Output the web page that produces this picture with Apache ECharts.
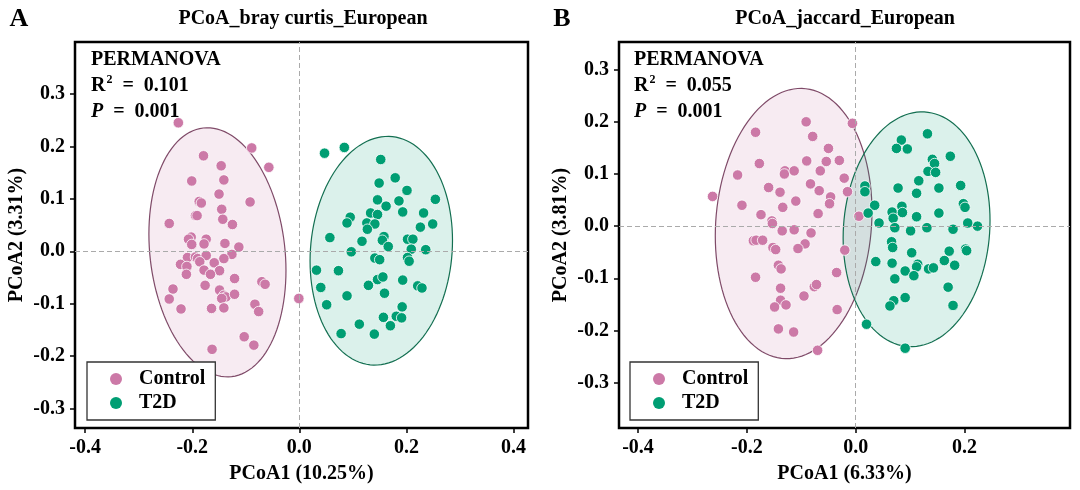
<!DOCTYPE html>
<html>
<head>
<meta charset="utf-8">
<title>PCoA European</title>
<script src="https://cdn.jsdelivr.net/npm/echarts@6.0.0/dist/echarts.min.js"></script>
<style>
  html, body { margin: 0; padding: 0; background: #fff; }
  #chart { width: 1080px; height: 490px; }
</style>
</head>
<body>
<div id="chart"></div>
<script>
// PCoA coordinates, [PCoA1, PCoA2]
const brayControl = [
  [-0.226, 0.245], [-0.089, 0.197], [-0.179, 0.182], [-0.057, 0.160], [-0.146, 0.163],
  [-0.201, 0.134], [-0.141, 0.136], [-0.150, 0.109], [-0.187, 0.095], [-0.183, 0.092],
  [-0.092, 0.094], [-0.145, 0.080], [-0.194, 0.068], [-0.191, 0.068], [-0.143, 0.061],
  [-0.125, 0.051], [-0.243, 0.053], [-0.202, 0.027], [-0.207, 0.023], [-0.174, 0.023],
  [-0.178, 0.014], [-0.201, 0.013], [-0.139, 0.015], [-0.113, 0.008], [-0.126, -0.006],
  [-0.209, -0.012], [-0.194, -0.011], [-0.190, -0.014], [-0.174, -0.008], [-0.141, -0.014],
  [-0.222, -0.025], [-0.210, -0.029], [-0.186, -0.020], [-0.159, -0.022], [-0.178, -0.036],
  [-0.149, -0.037], [-0.166, -0.044], [-0.211, -0.044], [-0.121, -0.052], [-0.070, -0.058],
  [-0.064, -0.063], [-0.176, -0.065], [-0.236, -0.072], [-0.149, -0.074], [-0.141, -0.084],
  [-0.137, -0.087], [-0.145, -0.090], [-0.121, -0.082], [-0.243, -0.091], [-0.083, -0.101],
  [-0.076, -0.115], [-0.221, -0.110], [-0.164, -0.109], [-0.141, -0.108], [-0.103, -0.163],
  [-0.085, -0.179], [-0.163, -0.187], [-0.001, -0.090]
];
const brayT2D = [
  [0.047, 0.187], [0.084, 0.198], [0.152, 0.175], [0.179, 0.140], [0.149, 0.130],
  [0.201, 0.116], [0.254, 0.099], [0.146, 0.098], [0.186, 0.096], [0.162, 0.086],
  [0.193, 0.075], [0.232, 0.073], [0.133, 0.073], [0.146, 0.070], [0.095, 0.065],
  [0.089, 0.054], [0.126, 0.054], [0.141, 0.052], [0.127, 0.042], [0.249, 0.052],
  [0.226, 0.046], [0.057, 0.026], [0.117, 0.019], [0.158, 0.028], [0.155, 0.021],
  [0.166, 0.009], [0.202, 0.023], [0.212, 0.023], [0.209, 0.004], [0.236, 0.003],
  [0.097, -0.001], [0.202, -0.012], [0.205, -0.019], [0.141, -0.013], [0.150, -0.016],
  [0.032, -0.036], [0.073, -0.037], [0.146, -0.054], [0.156, -0.049], [0.193, -0.055],
  [0.129, -0.065], [0.221, -0.066], [0.229, -0.070], [0.040, -0.069], [0.159, -0.080],
  [0.089, -0.085], [0.051, -0.102], [0.192, -0.106], [0.157, -0.126], [0.181, -0.124],
  [0.191, -0.127], [0.112, -0.139], [0.170, -0.142], [0.078, -0.157], [0.140, -0.158]
];
const jaccardControl = [
  [-0.263, 0.057], [-0.184, 0.180], [-0.091, 0.200], [-0.006, 0.197], [-0.079, 0.172],
  [-0.050, 0.149], [-0.177, 0.120], [-0.090, 0.125], [-0.054, 0.124], [-0.030, 0.126],
  [-0.217, 0.098], [-0.130, 0.106], [-0.131, 0.100], [-0.113, 0.106], [-0.065, 0.106],
  [-0.021, 0.092], [-0.160, 0.074], [-0.139, 0.065], [-0.083, 0.081], [-0.067, 0.068],
  [-0.015, 0.066], [-0.046, 0.056], [-0.048, 0.043], [-0.209, 0.040], [-0.110, 0.048],
  [-0.134, 0.036], [-0.069, 0.024], [-0.174, 0.022], [0.006, 0.019], [-0.154, 0.010],
  [-0.153, 0.005], [-0.135, -0.009], [-0.113, -0.007], [-0.082, -0.013], [-0.188, -0.028],
  [-0.183, -0.027], [-0.171, -0.027], [-0.152, -0.041], [-0.147, -0.045], [-0.093, -0.034],
  [-0.106, -0.043], [-0.020, -0.046], [-0.142, -0.075], [-0.137, -0.082], [-0.035, -0.089],
  [-0.184, -0.098], [-0.076, -0.116], [-0.072, -0.112], [-0.138, -0.119], [-0.095, -0.134],
  [-0.138, -0.142], [-0.149, -0.155], [-0.128, -0.151], [-0.034, -0.160], [-0.142, -0.197],
  [-0.114, -0.203], [-0.070, -0.238]
];
const jaccardT2D = [
  [0.132, 0.177], [0.084, 0.165], [0.075, 0.149], [0.095, 0.148], [0.174, 0.134],
  [0.141, 0.128], [0.145, 0.120], [0.133, 0.105], [0.147, 0.103], [0.116, 0.087],
  [0.017, 0.077], [0.017, 0.066], [0.078, 0.073], [0.153, 0.073], [0.193, 0.078],
  [0.112, 0.063], [0.198, 0.043], [0.201, 0.036], [0.035, 0.040], [0.085, 0.038],
  [0.023, 0.025], [0.067, 0.027], [0.086, 0.026], [0.153, 0.025], [0.112, 0.018],
  [0.069, 0.015], [0.043, 0.006], [0.072, -0.003], [0.131, -0.003], [0.224, 0.000],
  [0.206, 0.006], [0.101, -0.009], [0.179, -0.006], [0.066, -0.030], [0.068, -0.041],
  [0.103, -0.051], [0.172, -0.048], [0.202, -0.044], [0.204, -0.047], [0.037, -0.068],
  [0.067, -0.071], [0.114, -0.073], [0.112, -0.078], [0.134, -0.082], [0.143, -0.080],
  [0.163, -0.066], [0.182, -0.075], [0.091, -0.086], [0.107, -0.095], [0.072, -0.101],
  [0.170, -0.117], [0.091, -0.137], [0.070, -0.143], [0.063, -0.153], [0.179, -0.152],
  [0.020, -0.188], [0.091, -0.234]
];

// confidence ellipses: [centre x, centre y, half width, half height, x offset of top point]
const brayEllipses = [[-0.153, -0.002, 0.128, 0.2375, -0.0187], [0.153, 0.001, 0.133, 0.218, 0.012]];
const jaccardEllipses = [[-0.114, 0.005, 0.144, 0.259, 0.013], [0.112, -0.006, 0.135, 0.225, 0.010]];

const brayXTicks = [-0.4, -0.2, 0, 0.2, 0.4];
const jaccardXTicks = [-0.4, -0.2, 0, 0.2];
const yTicks = [-0.3, -0.2, -0.1, 0, 0.1, 0.2, 0.3];

const FONT = 'Liberation Serif';
const FS = 20;
const colors = { Control: '#cc79a7', T2D: '#009e73' };
const ellipseStyle = [
  { fill: 'rgba(204,121,167,0.15)', stroke: '#7f4a68' },
  { fill: 'rgba(0,158,115,0.14)', stroke: '#136f51' }
];

const chart = echarts.init(document.getElementById('chart'));

function renderEllipse(params, api) {
  const cx = api.value(0), cy = api.value(1), w = api.value(2), h = api.value(3), dx = api.value(4);
  const b = dx * h / w;
  const d = Math.sqrt(h * h - b * b);
  const points = [];
  for (let i = 0; i <= 120; i++) {
    const t = i / 120 * Math.PI * 2;
    points.push(api.coord([cx + w * Math.cos(t), cy + b * Math.cos(t) + d * Math.sin(t)]));
  }
  const s = ellipseStyle[params.dataIndex];
  return { type: 'polygon', shape: { points: points }, style: { fill: s.fill, stroke: s.stroke, lineWidth: 1.2 } };
}

function xAxis(idx, min, max, ticks, name) {
  return {
    type: 'value', gridIndex: idx, min: min, max: max,
    splitLine: { show: false },
    axisLine: { show: false, onZero: false },
    axisTick: { customValues: ticks, length: 5, lineStyle: { color: '#000', width: 1.5 } },
    axisLabel: {
      customValues: ticks, formatter: v => v.toFixed(1), margin: 10,
      color: '#000', fontFamily: FONT, fontWeight: 'bold', fontSize: FS
    },
    name: name, nameLocation: 'middle', nameGap: 36,
    nameTextStyle: { color: '#000', fontFamily: FONT, fontWeight: 'bold', fontSize: FS }
  };
}
function yAxis(idx, min, max, name) {
  return {
    type: 'value', gridIndex: idx, min: min, max: max,
    splitLine: { show: false },
    axisLine: { show: false, onZero: false },
    axisTick: { customValues: yTicks, length: 5, lineStyle: { color: '#000', width: 1.5 } },
    axisLabel: {
      customValues: yTicks, formatter: v => v.toFixed(1), margin: 10,
      color: '#000', fontFamily: FONT, fontWeight: 'bold', fontSize: FS
    },
    name: name, nameLocation: 'middle', nameGap: 48,
    nameTextStyle: { color: '#000', fontFamily: FONT, fontWeight: 'bold', fontSize: FS }
  };
}

function panelSeries(idx, ellipses, control, t2d) {
  return [
    {
      type: 'custom', xAxisIndex: idx, yAxisIndex: idx, z: 1, silent: true,
      renderItem: renderEllipse, data: ellipses, encode: { x: 0, y: 1 },
      markLine: {
        silent: true, symbol: 'none', label: { show: false },
        lineStyle: { color: '#aaa', width: 1, type: [5, 3] },
        data: [{ xAxis: 0 }, { yAxis: 0 }]
      }
    },
    {
      name: 'Control', type: 'scatter', xAxisIndex: idx, yAxisIndex: idx, z: 2,
      symbolSize: 10.5, data: control,
      itemStyle: { color: colors.Control, borderColor: '#fff', borderWidth: 0.8, opacity: 1 }
    },
    {
      name: 'T2D', type: 'scatter', xAxisIndex: idx, yAxisIndex: idx, z: 3,
      symbolSize: 10.5, data: t2d,
      itemStyle: { color: colors.T2D, borderColor: '#fff', borderWidth: 0.8, opacity: 1 }
    }
  ];
}

function legend(left) {
  return {
    data: ['Control', 'T2D'], left: left, top: 362, orient: 'vertical',
    icon: 'circle', itemWidth: 12, itemHeight: 12, itemGap: 4,
    padding: [7, 10, 7, 23],
    borderColor: '#333', borderWidth: 1.3, borderRadius: 0, backgroundColor: '#fff',
    itemStyle: { borderWidth: 0 },
    textStyle: { color: '#000', fontFamily: FONT, fontWeight: 'bold', fontSize: FS, padding: [0, 0, 0, 12] }
  };
}

function statsText(x, r2) {
  const base = { fontFamily: FONT, fontWeight: 'bold', fill: '#000' };
  return [
    { type: 'text', left: x, top: 50, style: Object.assign({ text: 'PERMANOVA', fontSize: FS }, base) },
    {
      type: 'text', left: x, top: 74,
      style: {
        text: '{a|R}{s|2}{a|\u2002=\u2002' + r2 + '}',
        rich: {
          a: Object.assign({ fontSize: FS, height: 23, verticalAlign: 'bottom' }, base),
          s: Object.assign({ fontSize: 12, verticalAlign: 'top', padding: [0, 0, 8, 1] }, base)
        }
      }
    },
    {
      type: 'text', left: x, top: 102,
      style: {
        text: '{i|P}{a|\u2002=\u2002' + '0.001' + '}',
        rich: {
          i: Object.assign({ fontStyle: 'italic', fontSize: FS }, base),
          a: Object.assign({ fontSize: FS }, base)
        }
      }
    }
  ];
}

const headStyle = { fontFamily: FONT, fontWeight: 'bold', fontSize: FS, fill: '#000', textAlign: 'center', textVerticalAlign: 'middle' };

chart.setOption({
  animation: false,
  backgroundColor: '#fff',
  grid: [
    { left: 75, top: 42, width: 453, height: 386, show: true, borderColor: '#000', borderWidth: 2.5, backgroundColor: '#fff' },
    { left: 619, top: 42, width: 451, height: 386, show: true, borderColor: '#000', borderWidth: 2.5, backgroundColor: '#fff' }
  ],
  xAxis: [
    xAxis(0, -0.419, 0.427, brayXTicks, 'PCoA1 (10.25%)'),
    xAxis(1, -0.435, 0.394, jaccardXTicks, 'PCoA1 (6.33%)')
  ],
  yAxis: [
    yAxis(0, -0.337, 0.399, 'PCoA2 (3.31%)'),
    yAxis(1, -0.387, 0.353, 'PCoA2 (3.81%)')
  ],
  legend: [legend(87), legend(630)],
  graphic: [
    { type: 'text', x: 19, y: 19, style: Object.assign({}, headStyle, { text: 'A', fontSize: 26 }) },
    { type: 'text', x: 562, y: 19, style: Object.assign({}, headStyle, { text: 'B', fontSize: 26 }) },
    { type: 'text', x: 303, y: 19, style: Object.assign({}, headStyle, { text: 'PCoA_bray curtis_European' }) },
    { type: 'text', x: 845, y: 19, style: Object.assign({}, headStyle, { text: 'PCoA_jaccard_European' }) }
  ].concat(statsText(91, '0.101'), statsText(634, '0.055')),
  series: panelSeries(0, brayEllipses, brayControl, brayT2D)
    .concat(panelSeries(1, jaccardEllipses, jaccardControl, jaccardT2D))
});
</script>
</body>
</html>
